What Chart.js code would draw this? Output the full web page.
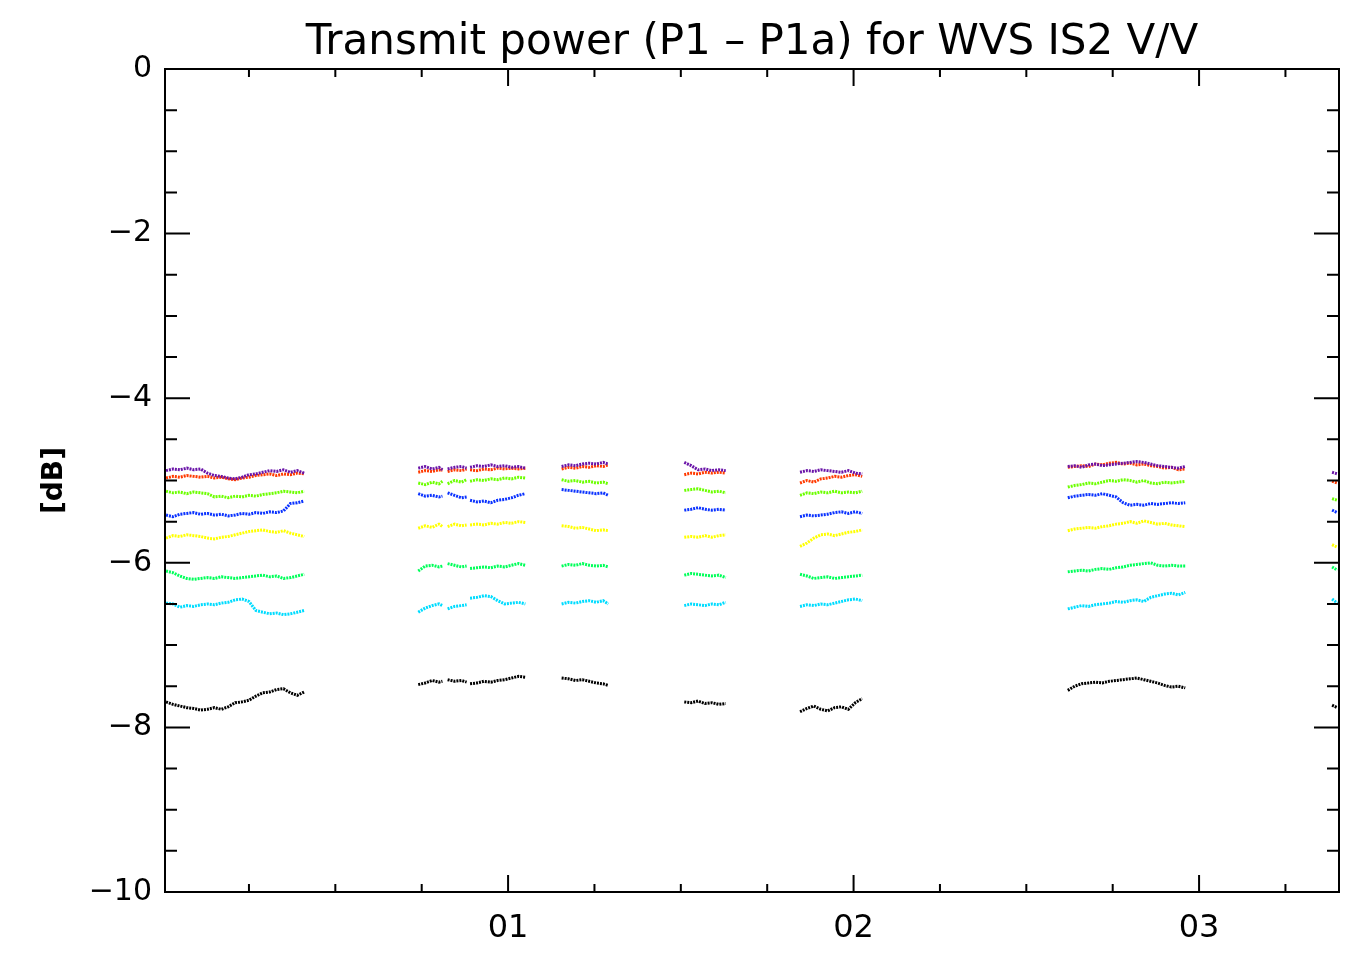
<!DOCTYPE html>
<html>
<head>
<meta charset="utf-8">
<script src="https://cdn.jsdelivr.net/npm/chart.js@4/dist/chart.umd.min.js"></script>
<style>
  html, body { margin: 0; padding: 0; background: #fff; }
  #contenedor { width: 1351px; height: 955px; }
</style>
</head>
<body>
<div id="contenedor"><canvas id="myChart"></canvas></div>
<script>
// tiempo en dias (los huecos llevan y = null)
var dias = [
  0.01,0.03,0.05,0.07,0.09,0.11,0.13,0.15,0.17,0.19,0.21,0.23,0.25,0.27,0.29,0.31,0.33,0.35,0.37,0.39,0.41,
  0.58,
  0.74,0.76,0.78,0.80,0.81,
  0.815,
  0.825,0.845,0.865,0.88,
  0.885,
  0.89,0.91,0.93,0.95,0.97,0.99,1.01,1.03,1.05,
  1.10,
  1.155,1.175,1.195,1.215,1.235,1.255,1.275,1.29,
  1.40,
  1.51,1.53,1.55,1.57,1.59,1.61,1.63,
  1.74,
  1.845,1.865,1.885,1.905,1.925,1.945,1.965,1.985,2.005,2.025,
  2.30,
  2.62,2.64,2.66,2.68,2.70,2.72,2.74,2.76,2.78,2.80,2.82,2.84,2.86,2.88,2.90,2.92,2.94,2.96,
  3.20,
  3.385,3.40
];

// potencia [dB] de cada serie
var morado = [
  -4.88,-4.86,-4.87,-4.85,-4.87,-4.86,-4.91,-4.94,-4.95,-4.97,-4.98,-4.96,-4.93,-4.92,-4.90,-4.88,-4.89,-4.87,-4.90,-4.88,-4.91,
  null,
  -4.85,-4.83,-4.86,-4.84,-4.87,
  null,
  -4.86,-4.84,-4.83,-4.85,
  null,
  -4.84,-4.82,-4.83,-4.81,-4.83,-4.82,-4.84,-4.83,-4.85,
  null,
  -4.83,-4.81,-4.82,-4.80,-4.79,-4.80,-4.78,-4.80,
  null,
  -4.78,-4.82,-4.87,-4.86,-4.88,-4.87,-4.88,
  null,
  -4.90,-4.88,-4.89,-4.87,-4.88,-4.89,-4.90,-4.88,-4.91,-4.92,
  null,
  -4.83,-4.82,-4.84,-4.81,-4.80,-4.82,-4.81,-4.80,-4.79,-4.78,-4.77,-4.78,-4.80,-4.82,-4.83,-4.84,-4.85,-4.83,
  null,
  -4.90,-4.92
];
var rojo = [
  -4.97,-4.95,-4.96,-4.94,-4.95,-4.96,-4.95,-4.97,-4.96,-4.98,-4.99,-4.97,-4.96,-4.94,-4.93,-4.92,-4.94,-4.92,-4.93,-4.91,-4.92,
  null,
  -4.90,-4.88,-4.89,-4.87,-4.88,
  null,
  -4.89,-4.87,-4.88,-4.86,
  null,
  -4.87,-4.88,-4.86,-4.87,-4.85,-4.86,-4.85,-4.86,-4.85,
  null,
  -4.86,-4.84,-4.85,-4.83,-4.84,-4.82,-4.83,-4.81,
  null,
  -4.93,-4.91,-4.92,-4.90,-4.91,-4.90,-4.91,
  null,
  -5.03,-5.00,-5.02,-4.98,-4.97,-4.95,-4.96,-4.94,-4.93,-4.95,
  null,
  -4.84,-4.83,-4.82,-4.83,-4.80,-4.81,-4.79,-4.78,-4.80,-4.79,-4.81,-4.80,-4.82,-4.83,-4.85,-4.84,-4.87,-4.86,
  null,
  -5.01,-5.03
];
var verde = [
  -5.13,-5.15,-5.14,-5.16,-5.14,-5.15,-5.16,-5.20,-5.19,-5.21,-5.19,-5.20,-5.18,-5.19,-5.17,-5.16,-5.15,-5.13,-5.14,-5.15,-5.13,
  null,
  -5.03,-5.05,-5.02,-5.04,-5.01,
  null,
  -5.04,-5.00,-5.02,-4.99,
  null,
  -5.01,-4.99,-5.00,-4.98,-4.99,-4.97,-4.98,-4.96,-4.97,
  null,
  -4.99,-5.01,-5.00,-5.02,-5.01,-5.03,-5.02,-5.04,
  null,
  -5.12,-5.11,-5.10,-5.12,-5.14,-5.13,-5.15,
  null,
  -5.18,-5.15,-5.16,-5.14,-5.15,-5.13,-5.15,-5.14,-5.15,-5.13,
  null,
  -5.08,-5.06,-5.05,-5.03,-5.04,-5.02,-5.00,-5.01,-4.99,-5.00,-5.02,-5.00,-5.03,-5.04,-5.02,-5.03,-5.02,-5.01,
  null,
  -5.22,-5.24
];
var azul = [
  -5.42,-5.44,-5.41,-5.40,-5.39,-5.41,-5.40,-5.42,-5.41,-5.43,-5.42,-5.40,-5.41,-5.39,-5.40,-5.38,-5.39,-5.37,-5.28,-5.27,-5.25,
  null,
  -5.16,-5.19,-5.18,-5.20,-5.19,
  null,
  -5.15,-5.18,-5.21,-5.20,
  null,
  -5.24,-5.26,-5.25,-5.27,-5.24,-5.23,-5.21,-5.18,-5.16,
  null,
  -5.11,-5.12,-5.13,-5.14,-5.15,-5.16,-5.15,-5.18,
  null,
  -5.36,-5.35,-5.33,-5.35,-5.36,-5.35,-5.36,
  null,
  -5.44,-5.42,-5.43,-5.42,-5.41,-5.39,-5.38,-5.40,-5.38,-5.40,
  null,
  -5.21,-5.19,-5.18,-5.17,-5.18,-5.16,-5.18,-5.20,-5.27,-5.30,-5.29,-5.30,-5.28,-5.29,-5.28,-5.27,-5.28,-5.27,
  null,
  -5.36,-5.39
];
var amarillo = [
  -5.70,-5.67,-5.68,-5.66,-5.67,-5.68,-5.70,-5.71,-5.69,-5.68,-5.66,-5.64,-5.62,-5.61,-5.60,-5.62,-5.63,-5.61,-5.64,-5.66,-5.68,
  null,
  -5.58,-5.55,-5.57,-5.53,-5.56,
  null,
  -5.56,-5.53,-5.55,-5.54,
  null,
  -5.54,-5.53,-5.54,-5.52,-5.53,-5.51,-5.52,-5.50,-5.51,
  null,
  -5.55,-5.56,-5.58,-5.57,-5.59,-5.61,-5.60,-5.61,
  null,
  -5.69,-5.68,-5.69,-5.67,-5.69,-5.67,-5.66,
  null,
  -5.80,-5.76,-5.70,-5.66,-5.65,-5.67,-5.65,-5.63,-5.62,-5.60,
  null,
  -5.61,-5.59,-5.58,-5.57,-5.58,-5.56,-5.55,-5.53,-5.52,-5.50,-5.52,-5.49,-5.51,-5.53,-5.52,-5.54,-5.55,-5.56,
  null,
  -5.78,-5.81
];
var verdeAgua = [
  -6.10,-6.12,-6.16,-6.19,-6.20,-6.19,-6.18,-6.19,-6.17,-6.18,-6.19,-6.18,-6.17,-6.16,-6.15,-6.17,-6.16,-6.19,-6.18,-6.16,-6.14,
  null,
  -6.10,-6.04,-6.03,-6.05,-6.04,
  null,
  -6.01,-6.03,-6.05,-6.04,
  null,
  -6.07,-6.06,-6.05,-6.06,-6.04,-6.05,-6.03,-6.01,-6.03,
  null,
  -6.04,-6.02,-6.03,-6.01,-6.03,-6.04,-6.03,-6.05,
  null,
  -6.15,-6.13,-6.14,-6.15,-6.16,-6.15,-6.18,
  null,
  -6.14,-6.16,-6.19,-6.18,-6.17,-6.19,-6.18,-6.17,-6.16,-6.15,
  null,
  -6.11,-6.10,-6.09,-6.10,-6.08,-6.07,-6.08,-6.06,-6.05,-6.03,-6.02,-6.01,-6.00,-6.03,-6.04,-6.03,-6.04,-6.04,
  null,
  -6.05,-6.09
];
var cian = [
  -6.49,-6.50,-6.54,-6.52,-6.53,-6.51,-6.50,-6.51,-6.49,-6.48,-6.45,-6.44,-6.47,-6.58,-6.60,-6.62,-6.61,-6.63,-6.62,-6.60,-6.58,
  null,
  -6.60,-6.55,-6.52,-6.50,-6.52,
  null,
  -6.56,-6.53,-6.52,-6.51,
  null,
  -6.43,-6.42,-6.40,-6.41,-6.46,-6.50,-6.49,-6.48,-6.50,
  null,
  -6.50,-6.48,-6.49,-6.47,-6.46,-6.48,-6.46,-6.50,
  null,
  -6.52,-6.50,-6.51,-6.52,-6.50,-6.51,-6.48,
  null,
  -6.53,-6.51,-6.52,-6.50,-6.51,-6.49,-6.47,-6.45,-6.44,-6.46,
  null,
  -6.56,-6.54,-6.52,-6.53,-6.51,-6.50,-6.49,-6.47,-6.48,-6.46,-6.45,-6.47,-6.42,-6.40,-6.38,-6.37,-6.39,-6.36,
  null,
  -6.44,-6.49
];
var negro = [
  -7.69,-7.72,-7.74,-7.76,-7.77,-7.79,-7.78,-7.76,-7.78,-7.75,-7.70,-7.69,-7.67,-7.62,-7.58,-7.57,-7.54,-7.53,-7.58,-7.61,-7.57,
  null,
  -7.48,-7.46,-7.43,-7.45,-7.44,
  null,
  -7.42,-7.44,-7.43,-7.45,
  null,
  -7.47,-7.46,-7.44,-7.45,-7.43,-7.42,-7.40,-7.38,-7.39,
  null,
  -7.40,-7.41,-7.43,-7.42,-7.44,-7.46,-7.47,-7.49,
  null,
  -7.69,-7.70,-7.68,-7.71,-7.70,-7.72,-7.71,
  null,
  -7.81,-7.77,-7.74,-7.78,-7.80,-7.76,-7.75,-7.78,-7.70,-7.65,
  null,
  -7.55,-7.50,-7.47,-7.46,-7.45,-7.46,-7.44,-7.43,-7.42,-7.41,-7.40,-7.42,-7.44,-7.46,-7.49,-7.51,-7.50,-7.52,
  null,
  -7.73,-7.76
];

// marcas de los ejes
var marcasX = [0.25,0.5,0.75,1,1.25,1.5,1.75,2,2.25,2.5,2.75,3,3.25];
var etiquetasX = {1: '01', 2: '02', 3: '03'};
var marcasY = [-0.5,-1,-1.5,-2,-2.5,-3,-3.5,-4,-4.5,-5,-5.5,-6,-6.5,-7,-7.5,-8,-8.5,-9,-9.5];

var series = [
  {datos: morado, color: '#6a14a8'},
  {datos: rojo, color: '#ff3a00'},
  {datos: verde, color: '#6cff00'},
  {datos: azul, color: '#0a32ff'},
  {datos: amarillo, color: '#ffff00'},
  {datos: verdeAgua, color: '#00ff5a'},
  {datos: cian, color: '#00dcff'},
  {datos: negro, color: '#000000'}
];

var fuente = "'DejaVu Sans', sans-serif";

//pinta el marco y las marcas hacia dentro
const marcasPlugin = {
  id: 'marcas',
  afterDatasetsDraw(chart) {
    const ctx = chart.ctx;
    const a = chart.chartArea;
    const x = chart.scales.x;
    const y = chart.scales.y;
    ctx.save();
    ctx.strokeStyle = '#000';
    ctx.lineWidth = 2;
    ctx.strokeRect(a.left, a.top, a.right - a.left, a.bottom - a.top);
    ctx.beginPath();
    marcasX.forEach(v => {
      var px = x.getPixelForValue(v);
      var largo = Number.isInteger(v) ? 17 : 8;
      ctx.moveTo(px, a.bottom); ctx.lineTo(px, a.bottom - largo);
      ctx.moveTo(px, a.top); ctx.lineTo(px, a.top + largo);
    });
    marcasY.forEach(v => {
      var py = y.getPixelForValue(v);
      var largo = (v % 2 == 0) ? 25 : 12;
      ctx.moveTo(a.left, py); ctx.lineTo(a.left + largo, py);
      ctx.moveTo(a.right, py); ctx.lineTo(a.right - largo, py);
    });
    ctx.stroke();
    ctx.restore();
  }
};

const data = {
  datasets: series.map(s => ({
    data: dias.map((d, i) => ({x: d, y: s.datos[i]})),
    borderColor: s.color,
    backgroundColor: s.color,
    borderWidth: 3,
    borderDash: [2, 1],
    pointRadius: 0,
    spanGaps: false,
    tension: 0
  }))
};

const config = {
  type: 'line',
  data: data,
  options: {
    responsive: true,
    maintainAspectRatio: false,
    animation: false,
    layout: {padding: {top: 0, right: 12, bottom: 0, left: 0}},
    plugins: {
      legend: {display: false},
      tooltip: {enabled: false},
      title: {
        display: true,
        fullSize: false,
        text: 'Transmit power (P1 \u2013 P1a) for WVS IS2 V/V',
        color: '#000',
        font: {family: fuente, size: 42, weight: 'normal'},
        padding: {top: 18, bottom: 0.6}
      }
    },
    scales: {
      x: {
        type: 'linear',
        min: 0.007,
        max: 3.405,
        afterFit: (scale) => {
          scale.height = 63;
          scale.paddingLeft = 0;
          scale.paddingRight = 0;
        },
        grid: {display: false, drawTicks: false},
        border: {display: false},
        ticks: {
          stepSize: 0.25,
          autoSkip: false,
          maxRotation: 0,
          padding: 17,
          color: '#000',
          font: {family: fuente, size: 32},
          callback: (v) => etiquetasX[v] || ''
        }
      },
      y: {
        type: 'linear',
        min: -10,
        max: 0,
        afterFit: (scale) => { scale.width = 165; },
        grid: {display: false, drawTicks: false},
        border: {display: false},
        title: {
          display: true,
          text: '[dB]',
          color: '#000',
          font: {family: fuente, size: 28, weight: 'bold'},
          padding: {top: 38, bottom: 0}
        },
        ticks: {
          stepSize: 2,
          padding: 13,
          color: '#000',
          font: {family: fuente, size: 30},
          callback: (v) => String(v).replace('-', '\u2212')
        }
      }
    }
  },
  plugins: [marcasPlugin]
};

var myChart = new Chart(document.getElementById('myChart'), config);
</script>
</body>
</html>
